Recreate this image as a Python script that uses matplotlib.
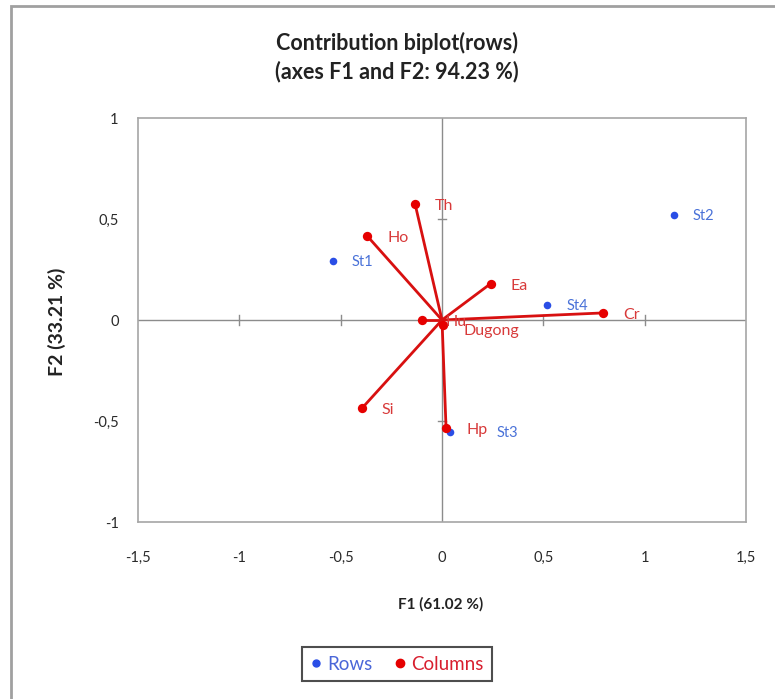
import matplotlib
matplotlib.use("Agg")
import matplotlib.pyplot as plt
from matplotlib.patches import Rectangle
from matplotlib.lines import Line2D

plt.rcParams['font.family'] = ['Lato', 'DejaVu Sans']

row_names = ['St1', 'St2', 'St3', 'St4']
row_f1 = [-0.54, 1.145, 0.04, 0.52]
row_f2 = [0.29, 0.52, -0.555, 0.075]

col_names = ['Th', 'Ho', 'Ea', 'Cr', 'Si', 'Hp', 'Hu', 'Dugong']
col_f1 = [-0.133, -0.37, 0.24, 0.795, -0.395, 0.02, -0.10, 0.005]
col_f2 = [0.575, 0.417, 0.18, 0.035, -0.437, -0.535, 0.0, -0.025]

xticks = [-1.5, -1, -0.5, 0, 0.5, 1, 1.5]
yticks = [-1, -0.5, 0, 0.5, 1]
minor_x = [-1, -0.5, 0.5, 1]
minor_y = [-0.5, 0.5]

def fmt(v):
    return ('%g' % v).replace('.', ',')

W, H = 775, 699
fig = plt.figure(figsize=(W / 100, H / 100), dpi=100)
fig.patch.set_facecolor('white')

# outer frame
fig.patches.append(Rectangle((11 / W, -0.05), 1.1, 1 - 6 / H + 0.05, transform=fig.transFigure,
                             fill=False, edgecolor='#a0a0a0', linewidth=2.0))

ax = fig.add_axes([138 / W, 1 - 522 / H, 608 / W, 404 / H])
ax.set_xlim(-1.5, 1.5)
ax.set_ylim(-1, 1)
for s in ax.spines.values():
    s.set_color('#a6a6a6')
    s.set_linewidth(1.2)
ax.set_xticks(xticks)
ax.set_yticks(yticks)
ax.set_xticklabels([fmt(v) for v in xticks], fontsize=10.5, color='#2a2a2a')
ax.set_yticklabels([fmt(v) for v in yticks], fontsize=10.5, color='#2a2a2a')
ax.tick_params(axis='x', length=0, pad=21)
ax.tick_params(axis='y', length=0, pad=14)

# zero axes with cross ticks
ax.axhline(0, color='#8c8c8c', linewidth=1.0, zorder=1)
ax.axvline(0, color='#8c8c8c', linewidth=1.0, zorder=1)
for v in minor_x:
    ax.plot([v, v], [-0.025, 0.025], color='#8c8c8c', linewidth=1.0, zorder=1)
for v in minor_y:
    ax.plot([-0.018, 0.018], [v, v], color='#8c8c8c', linewidth=1.0, zorder=1)

red = '#e60000'
blue = '#2a4ee6'

for x, y in zip(col_f1, col_f2):
    ax.plot([0, x], [0, y], color='#d81010', linewidth=2.0, zorder=2)
ax.scatter(col_f1, col_f2, s=45, color=red, zorder=4, linewidths=0)
ax.scatter(row_f1, row_f2, s=30, color=blue, zorder=3, linewidths=0)

for n, x, y in zip(col_names, col_f1, col_f2):
    dx, dy = 20, -2
    if n == 'Hu':
        dx = 24
    if n == 'Dugong':
        dy = -6
    ax.annotate(n, (x, y), xytext=(dx, dy), textcoords='offset pixels',
                fontsize=11.5, color='#d83a3a', va='center', ha='left', zorder=5)
for n, x, y in zip(row_names, row_f1, row_f2):
    dx = 46 if n == 'St3' else 19
    ax.annotate(n, (x, y), xytext=(dx, -1), textcoords='offset pixels',
                fontsize=10.5, color='#4a72d8', va='center', ha='left', zorder=5)

fig.text(397 / W, 1 - 43 / H, 'Contribution biplot(rows)', ha='center', va='center',
         fontsize=15.5, fontweight='bold', color='#222222')
fig.text(397 / W, 1 - 72 / H, '(axes F1 and F2: 94.23 %)', ha='center', va='center',
         fontsize=15.5, fontweight='bold', color='#222222')
fig.text(441 / W, 1 - 604 / H, 'F1 (61.02 %)', ha='center', va='center',
         fontsize=11, fontweight='bold', color='#222222')
fig.text(57 / W, 1 - 322 / H, 'F2 (33.21 %)', ha='center', va='center', rotation=90,
         fontsize=14, fontweight='bold', color='#222222')

handles = [Line2D([], [], marker='o', linestyle='none', color=blue, markersize=5),
           Line2D([], [], marker='o', linestyle='none', color=red, markersize=6)]
leg = fig.legend(handles, ['Rows', 'Columns'], loc='center', bbox_to_anchor=(397 / W, 1 - 664 / H),
                 ncol=2, frameon=True, fontsize=13.5, handlelength=0.6, handletextpad=0.3,
                 columnspacing=1.2, fancybox=False, borderpad=0.45)
leg.get_frame().set_edgecolor('#222222')
leg.get_frame().set_linewidth(1.5)
for t, c in zip(leg.get_texts(), ['#4a66d8', '#d81e2e']):
    t.set_color(c)

fig.savefig('out.png', dpi=100, facecolor='white')
